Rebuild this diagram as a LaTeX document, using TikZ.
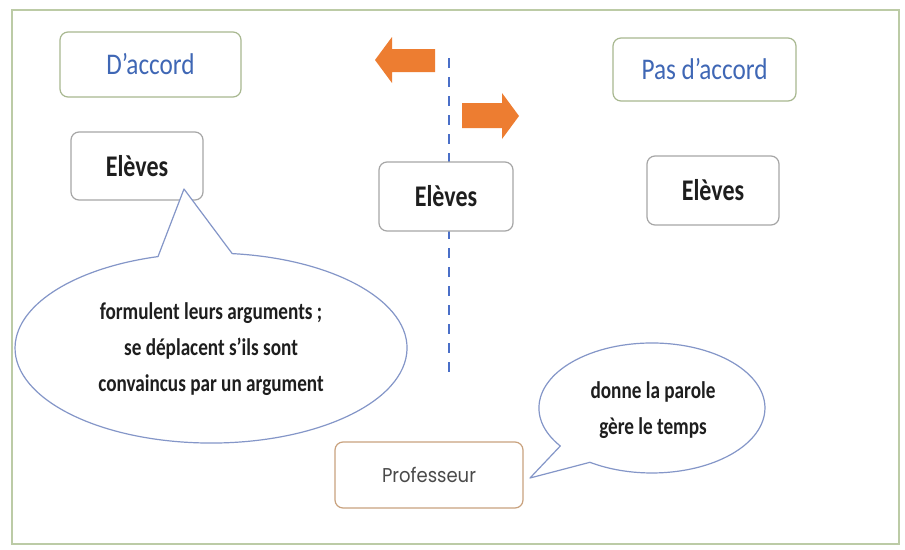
\documentclass[tikz,border=0pt]{standalone}
\usepackage{fontspec}
\setmainfont{Carlito}
\newfontfamily\condfont[FakeStretch=0.84]{Carlito}
\newfontfamily\condbold[FakeStretch=0.8]{Carlito Bold}
\newfontfamily\profont[FakeStretch=0.9]{Poppins}
\definecolor{framegreen}{HTML}{BCCBA6}
\definecolor{titleborder}{HTML}{A8B890}
\definecolor{titleblue}{HTML}{3F67B5}
\definecolor{grayborder}{HTML}{A6A6A6}
\definecolor{tanborder}{HTML}{C9A27E}
\definecolor{arroworange}{HTML}{ED7D31}
\definecolor{dashblue}{HTML}{4A6FC8}
\definecolor{calloutblue}{HTML}{8496C8}
\definecolor{profgray}{HTML}{4A4A4A}
\definecolor{textblack}{HTML}{1E1E1E}
\begin{document}
\begin{tikzpicture}[x=1pt,y=-1pt,
  box/.style={draw, rounded corners=8pt, fill=white, line width=1.2pt, inner sep=0pt},
  titlebox/.style={box, draw=titleborder, text=titleblue, font=\condfont\fontsize{30}{36}\selectfont},
  elevebox/.style={box, draw=grayborder, text=textblack, minimum width=132pt, minimum height=68pt, font=\condbold\fontsize{30}{36}\selectfont},
  profbox/.style={box, draw=tanborder, text=profgray, font=\profont\fontsize{20}{24}\selectfont},
  calloutshape/.style={draw=calloutblue, fill=white, line width=1.2pt, line join=round},
  callouttext/.style={align=center, inner sep=0pt, text=textblack, font=\condbold\fontsize{24}{36}\selectfont},
  movearrow/.style={fill=arroworange},
  dashline/.style={draw=dashblue, line width=2pt, dash pattern=on 10pt off 9pt}
]
\useasboundingbox (0,0) rectangle (905,549);
\fill[white] (0,0) rectangle (905,549);
% frame
\draw[framegreen, line width=1.5pt] (12,10) rectangle (899,544);

% titles
\node[titlebox, minimum width=181pt, minimum height=65pt] (accord) at (150.5,64.5) {D’accord};
\node[titlebox, minimum width=183pt, minimum height=63pt] (pasaccord) at (704.5,69.5) {Pas d’accord};

% dashed separation line
\coordinate (dtop) at (449,58);
\coordinate (dbot) at (449,378);
\draw[dashline] (dtop) -- (dbot);

% arrows
\fill[movearrow] (375,60) -- (392,37) -- (392,49) -- (435,49) -- (435,72) -- (392,72) -- (392,83) -- cycle;
\fill[movearrow] (462,103) -- (502,103) -- (502,93) -- (519,116) -- (502,139) -- (502,128) -- (462,128) -- cycle;

% students
\node[elevebox] (elevesL) at (137,166) {Elèves};
\node[elevebox, minimum width=134pt, minimum height=69pt] (elevesM) at (446,196.5) {Elèves};
\node[elevebox, minimum height=69pt] (elevesR) at (713,190.5) {Elèves};

% teacher
\node[profbox, minimum width=188pt, minimum height=66pt] (prof) at (429,475) {Professeur};

% callout of the students
\coordinate (tipL) at (184,189);
\coordinate (baseLr) at (232.2,253.6);
\draw[calloutshape] (tipL) -- (baseLr) arc[start angle=-83.8, end angle=254.3, x radius=196, y radius=95] -- cycle;
\node[callouttext] (argtext) at (211,349) {formulent leurs arguments ;\\se déplacent s’ils sont\\convaincus par un argument};

% callout of the teacher
\coordinate (tipP) at (530,478);
\coordinate (basePl) at (560.3,446.0);
\draw[calloutshape] (tipP) -- (basePl) arc[start angle=144.2, end angle=483.3, x radius=113, y radius=65] -- cycle;
\node[callouttext] (proftext) at (653,410) {donne la parole\\gère le temps};
\end{tikzpicture}
\end{document}
